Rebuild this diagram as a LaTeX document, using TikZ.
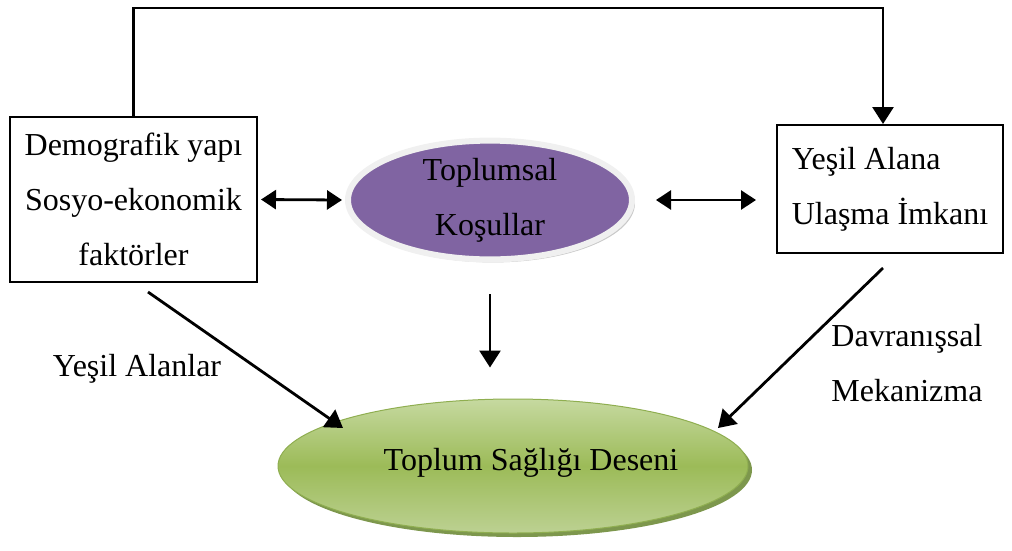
\documentclass[tikz,border=0pt]{standalone}
\usepackage{fontspec}
\setmainfont{Liberation Serif}
\usetikzlibrary{shapes.geometric,arrows.meta,shadows}
\definecolor{purp}{HTML}{8064A2}
\definecolor{gtop}{HTML}{C6D9A0}
\definecolor{gmid}{HTML}{9CBB58}
\definecolor{gbot}{HTML}{BCD192}
\definecolor{gline}{HTML}{8FAE50}
\definecolor{gshadow}{HTML}{6F8C3A}
\begin{document}
\begin{tikzpicture}[x=1pt,y=-1pt,
  txt/.style={font=\fontsize{32}{55}\selectfont},
  boxst/.style={txt,draw,line width=2pt,align=center,inner sep=0},
  arr/.style={line width=2.8pt,-{Triangle[length=17pt,width=21pt]}},
  dbl/.style={line width=2.8pt,{Triangle[length=15pt,width=19pt]}-{Triangle[length=15pt,width=19pt]}},
  purpell/.style={txt,ellipse,fill=purp,draw=gray!12,line width=6pt,align=center,inner sep=0,
    drop shadow={shadow xshift=3pt,shadow yshift=-3pt,fill=gray!60,opacity=0.7}},
  greenell/.style={txt,ellipse,top color=gtop,bottom color=gbot,middle color=gmid,draw=gline,line width=1pt,inner sep=0,
    drop shadow={shadow xshift=4pt,shadow yshift=-4pt,fill=gshadow,opacity=0.9}},
  lbl/.style={txt,align=center,inner sep=0}
]
\useasboundingbox (0,0) rectangle (1012,550);

\node[boxst,minimum width=247pt,minimum height=165pt] (demo) at (133.5,199.5)
  {Demografik yapı\\Sosyo-ekonomik\\faktörler};
\node[boxst,minimum width=226pt,minimum height=128pt,align=left] (ulas) at (890,189)
  {Yeşil Alana\\Ulaşma İmkanı};
\node[purpell,minimum width=284pt,minimum height=116pt] (kos) at (490,200)
  {Toplumsal\\Koşullar};
\node[greenell,minimum width=470pt,minimum height=134pt] (sag) at (513,466) {};
\node[lbl] (sagt) at (531,463) {Toplum Sağlığı Deseni};

\node[lbl] (yal) at (137,369) {Yeşil Alanlar};
\node[lbl] (dav) at (907,363) {Davranışsal\\Mekanizma};

\coordinate (topL) at (133.5,8);
\coordinate (l1) at (148,292);
\coordinate (l2) at (343,428);
\coordinate (r1) at (883,268);
\coordinate (r2) at (718,428);

\draw[arr] (demo.north) -- (topL) -| ([xshift=-7pt]ulas.north);
\draw[dbl] ([xshift=3pt]demo.east) -- ([xshift=-3pt]kos.west);
\draw[dbl] ([xshift=21pt]kos.east) -- ([xshift=-20pt]kos.east -| ulas.west);
\draw[arr] ([yshift=-32pt]kos.south) -- ([yshift=31pt]kos.south |- sag.north);
\draw[arr] (l1) -- (l2);
\draw[arr] (r1) -- (r2);
\end{tikzpicture}
\end{document}
